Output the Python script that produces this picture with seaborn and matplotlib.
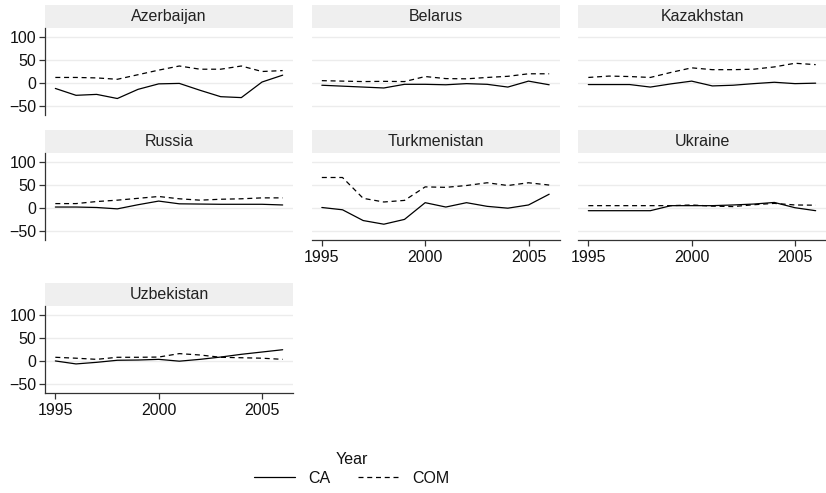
import numpy as np
import pandas as pd
import matplotlib
matplotlib.use("Agg")
import matplotlib.pyplot as plt
from matplotlib.lines import Line2D
from matplotlib.patches import Rectangle
import seaborn as sns

# ---- data -------------------------------------------------------------
years = list(range(1995, 2007))
countries = ["Azerbaijan", "Belarus", "Kazakhstan", "Russia",
             "Turkmenistan", "Ukraine", "Uzbekistan"]

azerbaijan_ca = [-12, -27, -25, -34, -14, -2, -1, -16, -30, -32, 2, 17]
azerbaijan_com = [12, 12, 11, 8, 18, 28, 37, 30, 30, 37, 25, 27]
belarus_ca = [-5, -7, -9, -11, -3, -3, -4, -1.5, -3, -9, 4, -4]
belarus_com = [5, 4, 3, 3.5, 3, 14, 9.5, 9, 12, 14.5, 20, 20]
kazakhstan_ca = [-3.5, -3.5, -3.5, -9, -2, 4, -6.5, -5, -1.5, 1.5, -1.5, -0.5]
kazakhstan_com = [12, 15, 14, 12, 23, 33, 29, 29, 30, 35, 43, 40]
russia_ca = [2, 2, 1, -2, 7, 15, 9, 8.5, 8, 8, 8, 6.5]
russia_com = [9.5, 9.5, 14, 17, 21, 25, 20, 17, 19, 20, 22, 22]
turkmenistan_ca = [1, -4, -27.5, -35.5, -25, 11.5, 2, 11.5, 3.5, -0.5, 6.5, 30]
turkmenistan_com = [66.5, 66.5, 21, 13, 16.5, 46, 45, 49, 55, 49, 55, 50]
ukraine_ca = [-6, -6, -6, -6, 5, 5, 5, 6.5, 8.5, 12, 0.5, -6]
ukraine_com = [5, 5, 5, 5, 5, 6.5, 4, 3, 7, 10, 6.5, 6]
uzbekistan_ca = [0, -6.5, -3, 1.5, 2, 3.5, -0.5, 3.5, 8.5, 14.5, 19.5, 24.5]
uzbekistan_com = [8, 6, 3.5, 8, 8, 8.5, 16, 13, 8, 7, 6, 3.5]

series_names = ["CA", "COM"]
yticks = [-50, 0, 50, 100]
xticks = [1995, 2000, 2005]

values = {
    "Azerbaijan": (azerbaijan_ca, azerbaijan_com),
    "Belarus": (belarus_ca, belarus_com),
    "Kazakhstan": (kazakhstan_ca, kazakhstan_com),
    "Russia": (russia_ca, russia_com),
    "Turkmenistan": (turkmenistan_ca, turkmenistan_com),
    "Ukraine": (ukraine_ca, ukraine_com),
    "Uzbekistan": (uzbekistan_ca, uzbekistan_com),
}

rows = []
for c in countries:
    for name, vals in zip(series_names, values[c]):
        for yr, v in zip(years, vals):
            rows.append({"country": c, "series": name, "year": yr, "value": v})
df = pd.DataFrame(rows)

# ---- style ------------------------------------------------------------
sns.set_theme(style="white")
plt.rcParams["font.family"] = ["Liberation Sans", "DejaVu Sans"]
FS = 11.5
plt.rcParams["font.size"] = FS

dash_style = (4, 3)
g = sns.relplot(
    data=df, x="year", y="value", col="country", col_order=countries,
    col_wrap=3, kind="line", style="series", style_order=series_names,
    dashes={"CA": "", "COM": dash_style}, color="black", linewidth=0.9,
    legend=False, height=1.5, aspect=1.6, facet_kws={"sharex": True, "sharey": True},
)
fig = g.figure
fig.set_size_inches(8.26, 4.93)

W, H = 826.0, 493.0
col_left = [45, 311.5, 578]
panel_w = 248
panel_h = 87
row_top = [28, 153, 306]
strip_h = 23
spine_col = "#333333"
text_col = "#111111"

bottom_panels = {"Turkmenistan", "Ukraine", "Uzbekistan"}

for i, ax in enumerate(g.axes.flat):
    country = countries[i]
    r, c = divmod(i, 3)
    x0 = col_left[c] / W
    y0 = 1 - (row_top[r] + panel_h) / H
    ax.set_position([x0, y0, panel_w / W, panel_h / H])
    ax.set_xlim(1994.5, 2006.5)
    ax.set_ylim(-70, 120)
    ax.set_xlabel("")
    ax.set_ylabel("")
    ax.set_title("")
    ax.set_yticks(yticks)
    ax.set_xticks(xticks)
    ax.grid(axis="y", color="#ececec", linewidth=1.0)
    ax.grid(axis="x", visible=False)
    ax.set_axisbelow(True)
    for s in ax.spines.values():
        s.set_visible(False)

    show_y = (c == 0)
    show_x = country in bottom_panels
    ax.spines["left"].set_visible(show_y)
    ax.spines["left"].set_color(spine_col)
    ax.spines["left"].set_linewidth(0.9)
    ax.spines["bottom"].set_visible(show_x)
    ax.spines["bottom"].set_color(spine_col)
    ax.spines["bottom"].set_linewidth(0.9)
    ax.tick_params(axis="y", left=show_y, labelleft=show_y, length=4.5,
                   width=0.9, color=spine_col, pad=2, labelsize=FS,
                   labelcolor=text_col, direction="out")
    ax.tick_params(axis="x", bottom=show_x, labelbottom=show_x, length=4.5,
                   width=0.9, color=spine_col, pad=3, labelsize=FS,
                   labelcolor=text_col, direction="out")

    # facet strip
    sh = strip_h / panel_h
    ax.add_patch(Rectangle((0, 1.0), 1, sh, transform=ax.transAxes,
                           facecolor="#efefef", edgecolor="none", clip_on=False))
    ax.text(0.5, 1.0 + sh / 2, country, transform=ax.transAxes,
            ha="center", va="center", fontsize=FS, color="#222222")

handles = [Line2D([], [], color="black", linewidth=0.9),
           Line2D([], [], color="black", linewidth=0.9, dashes=dash_style)]
leg = fig.legend(handles, series_names, title="Year", ncol=2, loc="center",
                 bbox_to_anchor=(351.5 / W, 1 - 469 / H), frameon=False,
                 fontsize=FS, title_fontsize=FS, handlelength=2.6,
                 handletextpad=0.8, columnspacing=1.7, borderpad=0.2,
                 labelspacing=0.2)
for t in leg.get_texts():
    t.set_color(text_col)
leg.get_title().set_color(text_col)

fig.savefig("out.png", dpi=100)
